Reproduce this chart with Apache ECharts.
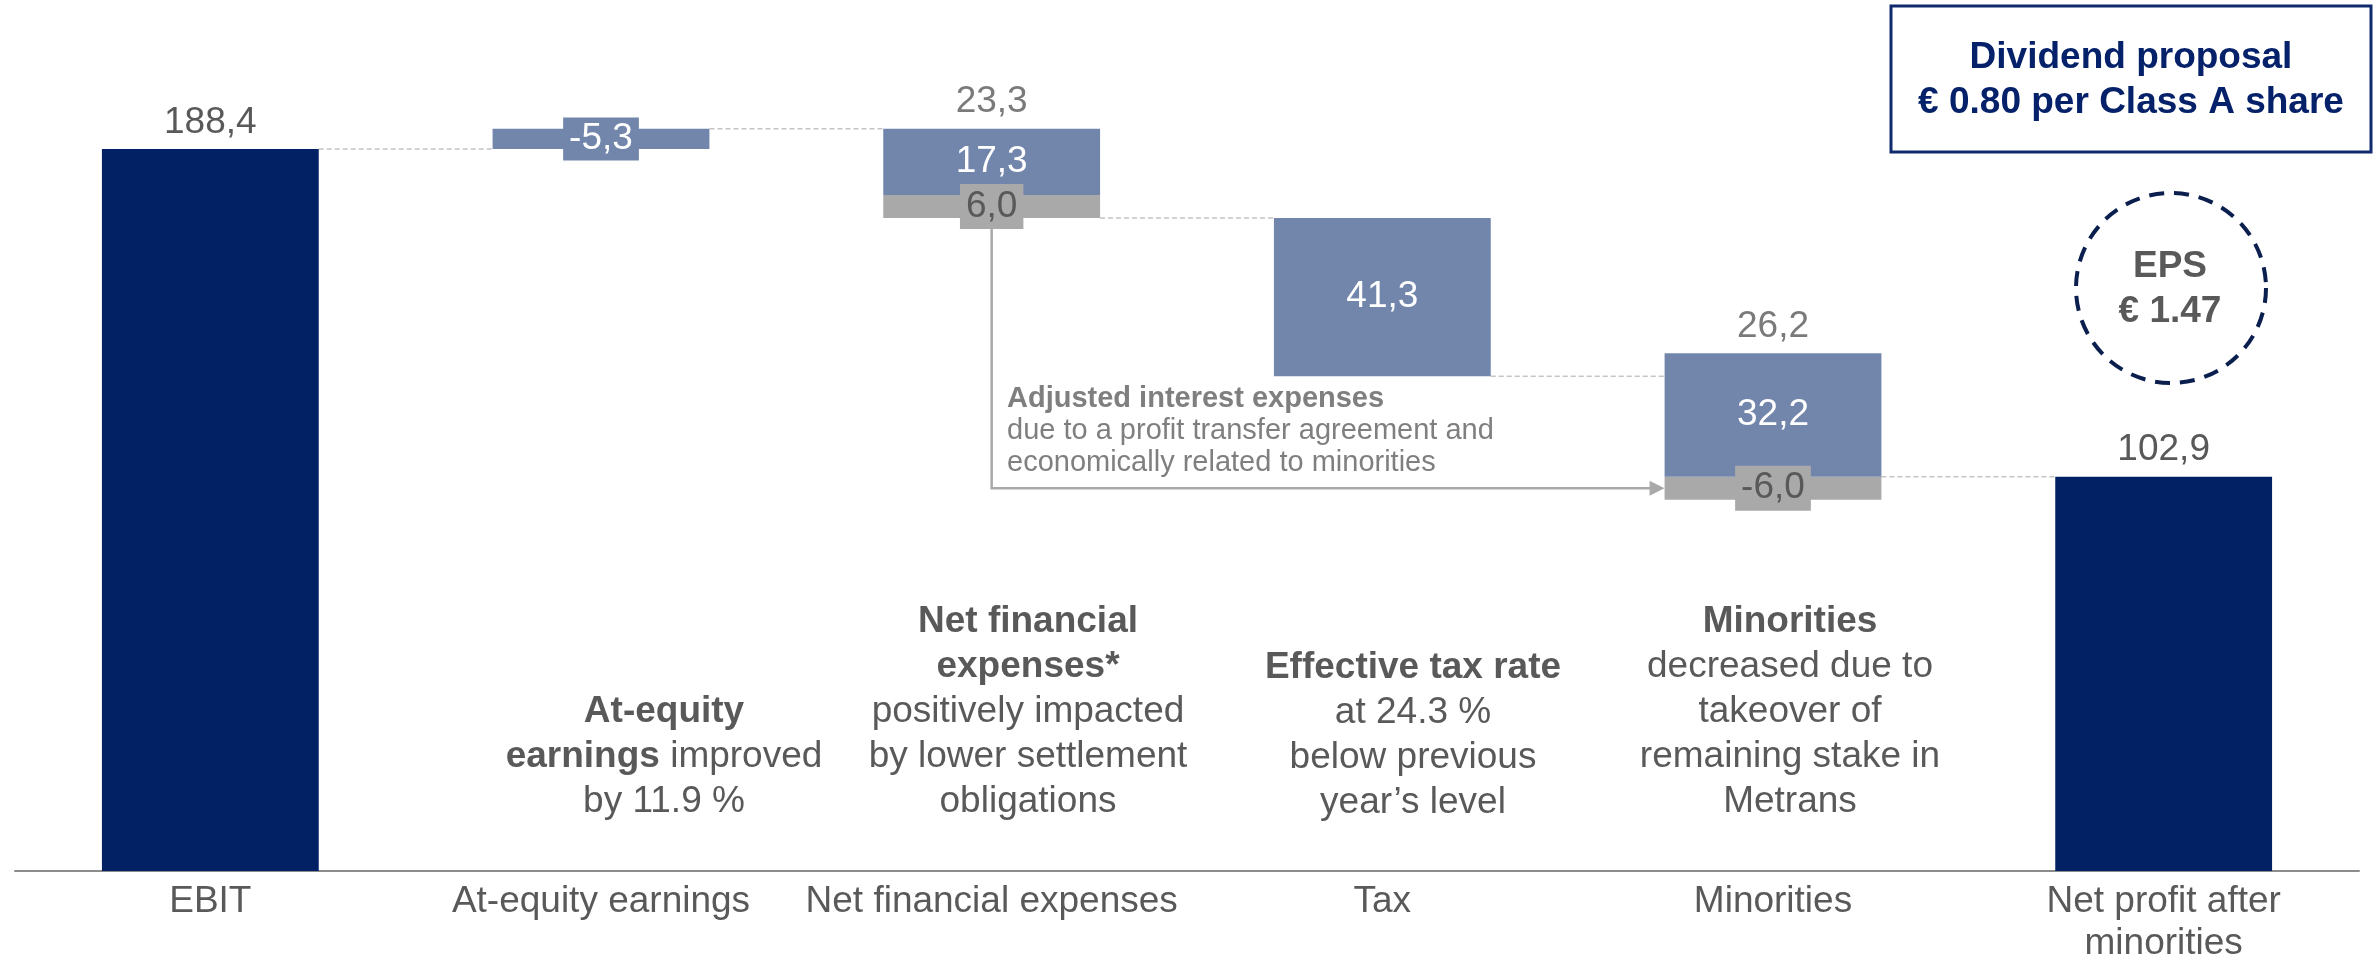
<!DOCTYPE html>
<html>
<head>
<meta charset="utf-8">
<script src="https://cdn.jsdelivr.net/npm/echarts@6/dist/echarts.min.js"></script>
<style>
  html, body { margin: 0; padding: 0; background: #ffffff; }
  #chart { width: 2376px; height: 957px; }
</style>
</head>
<body>
<div id="chart"></div>
<script>
// Waterfall: EBIT to net profit after minorities (EUR m)
const categories = ['EBIT', 'At-equity earnings', 'Net financial expenses', 'Tax', 'Minorities', 'Net profit after\nminorities'];
const totalValues = [188.4, null, null, null, null, 102.9];   // full-height bars
const blueValues  = [null, -5.3, 17.3, 41.3, 32.2, null];     // main step component
const grayValues  = [null, null, 6.0, null, -6.0, null];      // adjusted interest component
const stepTotals  = [null, null, 23.3, null, 26.2, null];     // net step shown above the bar

const NAVY = '#022165';
const BLUE = '#7286ac';
const GRAY = '#a9a9a9';
const TEXT = '#595959';
const FONT = '"Liberation Sans", Arial, sans-serif';
const BAR_RATIO = 0.555;

const fmt = v => (v == null ? '' : v.toFixed(1).replace('.', ','));

// Derive floating segment geometry from the step values
const base = [], grayH = [], blueH = [], tops = [], after = [];
let level = totalValues[0];
categories.forEach((c, i) => {
  if (totalValues[i] != null) {
    base.push(0); grayH.push(null); blueH.push(null); tops.push(null);
    level = totalValues[i];
    after.push(level);
    return;
  }
  const b = blueValues[i] || 0;
  const g = grayValues[i] || 0;
  const end = level - b - g;
  const grayLow = Math.min(end, end + g);
  const blueLow = end + Math.max(g, 0) + Math.min(b, 0);
  base.push(grayValues[i] != null ? grayLow : blueLow);
  grayH.push(grayValues[i] != null ? Math.abs(g) : null);
  blueH.push(Math.abs(b));
  tops.push(blueLow + Math.abs(b));
  after.push(end);
  level = end;
});

const connectors = [];
for (let i = 0; i < categories.length - 1; i++) connectors.push([i, after[i]]);

// Reallocation arrow: from the interest part of net financial expenses to minorities
const arrowData = [[2, after[2], 4, after[4] + grayValues[4] / 2]];

const labelBase = { fontFamily: FONT, fontSize: 37, lineHeight: 37 };

const richStyles = {
  b: { fontFamily: FONT, fontSize: 37, fontWeight: 'bold', fill: TEXT, lineHeight: 45, align: 'center' },
  r: { fontFamily: FONT, fontSize: 37, fill: TEXT, lineHeight: 45, align: 'center' }
};

const chart = echarts.init(document.getElementById('chart'), null, { renderer: 'canvas' });

chart.setOption({
  animation: false,
  backgroundColor: '#ffffff',
  textStyle: { fontFamily: FONT },
  grid: { left: 15, right: 17, top: 28, bottom: 86, containLabel: false, outerBoundsMode: 'none' },
  xAxis: {
    type: 'category',
    data: categories,
    axisLine: { lineStyle: { color: '#8c8c8c', width: 2 } },
    axisTick: { show: false },
    axisLabel: { interval: 0, color: TEXT, fontSize: 37, lineHeight: 42, margin: 10, fontFamily: FONT },
    splitLine: { show: false }
  },
  yAxis: { type: 'value', min: 0, max: 220, show: false, splitLine: { show: false } },
  series: [
    {
      type: 'custom',
      name: 'arrow',
      z: 1,
      silent: true,
      data: arrowData,
      encode: { x: 0, y: 1 },
      renderItem: function (params, api) {
        const half = api.size([1, 0])[0] * BAR_RATIO / 2;
        const a = api.coord([api.value(0), api.value(1)]);
        const b = api.coord([api.value(0), api.value(3)]);
        const c = api.coord([api.value(2), api.value(3)]);
        const tipX = c[0] - half;
        const y = b[1];
        return {
          type: 'group',
          children: [
            { type: 'polyline', shape: { points: [a, [a[0], y], [tipX - 12, y]] },
              style: { stroke: GRAY, lineWidth: 2.5, fill: null } },
            { type: 'polygon', shape: { points: [[tipX - 15, y - 7.5], [tipX, y], [tipX - 15, y + 7.5]] },
              style: { fill: GRAY } }
          ]
        };
      }
    },
    {
      type: 'custom',
      name: 'connectors',
      z: 1,
      silent: true,
      data: connectors,
      encode: { x: 0, y: 1 },
      renderItem: function (params, api) {
        const half = api.size([1, 0])[0] * BAR_RATIO / 2;
        const i = api.value(0), v = api.value(1);
        const p1 = api.coord([i, v]);
        const p2 = api.coord([i + 1, v]);
        return {
          type: 'line',
          shape: { x1: p1[0] + half, y1: p1[1], x2: p2[0] - half, y2: p2[1] },
          style: { stroke: '#c4c4c4', lineWidth: 1.5, lineDash: [5, 3] }
        };
      }
    },
    {
      type: 'bar', name: 'base', stack: 'w', barWidth: (BAR_RATIO * 100) + '%',
      data: base, itemStyle: { color: 'transparent' }, silent: true, z: 2
    },
    {
      type: 'bar', name: 'interest', stack: 'w', data: grayH, z: 2,
      itemStyle: { color: GRAY },
      label: Object.assign({}, labelBase, {
        show: true, position: 'inside', color: TEXT,
        backgroundColor: GRAY, padding: [4, 6],
        formatter: p => fmt(grayValues[p.dataIndex])
      })
    },
    {
      type: 'bar', name: 'step', stack: 'w', data: blueH, z: 2,
      itemStyle: { color: BLUE },
      label: Object.assign({}, labelBase, {
        show: true, position: 'inside', color: '#ffffff',
        backgroundColor: BLUE, padding: [3, 6],
        formatter: p => fmt(blueValues[p.dataIndex])
      })
    },
    {
      type: 'bar', name: 'total', stack: 'w', data: totalValues, z: 2,
      itemStyle: { color: NAVY },
      label: Object.assign({}, labelBase, {
        show: true, position: 'top', distance: 8, color: TEXT,
        formatter: p => fmt(totalValues[p.dataIndex])
      })
    },
    {
      type: 'scatter', name: 'stepTotal', z: 3, silent: true,
      symbolSize: 1, itemStyle: { color: 'transparent' },
      data: stepTotals.map((v, i) => (v == null ? null : [i, tops[i]])),
      label: Object.assign({}, labelBase, {
        show: true, position: 'top', distance: 8, color: TEXT,
        formatter: p => fmt(stepTotals[p.dataIndex])
      })
    }
  ],
  graphic: [
    // commentary under the steps
    {
      type: 'text', x: 664, y: 824, silent: true,
      style: {
        text: '{b|At-equity}\n{b|earnings}{r| improved}\n{r|by 11.9 %}',
        align: 'center', verticalAlign: 'bottom', lineHeight: 45, rich: richStyles
      }
    },
    {
      type: 'text', x: 1028, y: 824, silent: true,
      style: {
        text: '{b|Net financial}\n{b|expenses*}\n{r|positively impacted}\n{r|by lower settlement}\n{r|obligations}',
        align: 'center', verticalAlign: 'bottom', lineHeight: 45, rich: richStyles
      }
    },
    {
      type: 'text', x: 1413, y: 825, silent: true,
      style: {
        text: '{b|Effective tax rate}\n{r|at 24.3 %}\n{r|below previous}\n{r|year\u2019s level}',
        align: 'center', verticalAlign: 'bottom', lineHeight: 45, rich: richStyles
      }
    },
    {
      type: 'text', x: 1790, y: 824, silent: true,
      style: {
        text: '{b|Minorities}\n{r|decreased due to}\n{r|takeover of}\n{r|remaining stake in}\n{r|Metrans}',
        align: 'center', verticalAlign: 'bottom', lineHeight: 45, rich: richStyles
      }
    },
    // note on the reallocated interest
    {
      type: 'text', x: 1007, y: 383, silent: true,
      style: {
        text: '{b|Adjusted interest expenses}\n{r|due to a profit transfer agreement and}\n{r|economically related to minorities}',
        align: 'left', verticalAlign: 'top', lineHeight: 32,
        rich: {
          b: { fontFamily: FONT, fontSize: 29, fontWeight: 'bold', fill: '#7f7f7f', lineHeight: 32 },
          r: { fontFamily: FONT, fontSize: 29, fill: '#7f7f7f', lineHeight: 32 }
        }
      }
    },
    // dividend proposal box
    {
      type: 'rect', silent: true,
      shape: { x: 1891, y: 6, width: 480, height: 146 },
      style: { fill: '#ffffff', stroke: '#102a6e', lineWidth: 3 }
    },
    {
      type: 'text', x: 2131, y: 80, silent: true,
      style: {
        text: 'Dividend proposal\n\u20ac 0.80 per Class A share',
        align: 'center', verticalAlign: 'middle', lineHeight: 45,
        fontFamily: FONT, fontSize: 37, fontWeight: 'bold', fill: '#05216a'
      }
    },
    // earnings per share badge
    {
      type: 'circle', silent: true,
      shape: { cx: 2171, cy: 288, r: 95 },
      style: { fill: 'none', stroke: '#0b1f4f', lineWidth: 4, lineDash: [15, 10] }
    },
    {
      type: 'text', x: 2170, y: 289, silent: true,
      style: {
        text: 'EPS\n\u20ac 1.47',
        align: 'center', verticalAlign: 'middle', lineHeight: 45,
        fontFamily: FONT, fontSize: 37, fontWeight: 'bold', fill: TEXT
      }
    }
  ]
});
</script>
</body>
</html>
